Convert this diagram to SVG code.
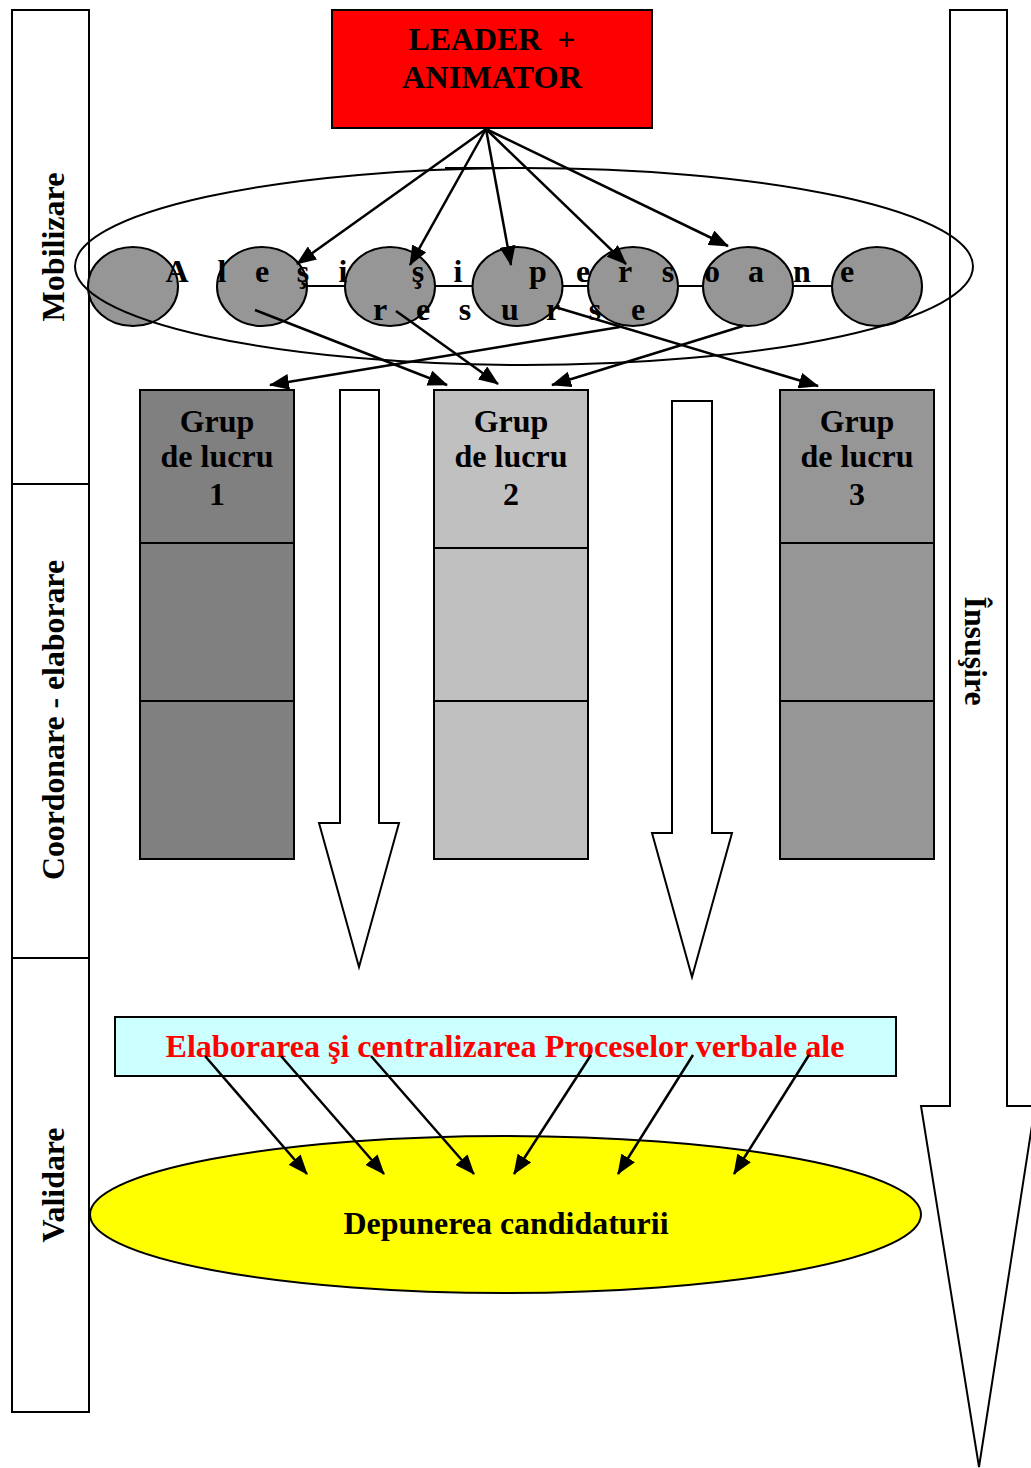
<svg xmlns="http://www.w3.org/2000/svg" width="1031" height="1468" viewBox="0 0 1031 1468">
<defs>
<marker id="ah" markerUnits="userSpaceOnUse" markerWidth="20" markerHeight="16" refX="19" refY="8" orient="auto"><path d="M0,0 L20,8 L0,16 z" fill="#000"/></marker>
</defs>
<style>
.t{font-family:"Liberation Serif","Times New Roman",serif;font-weight:bold;fill:#000;font-size:32px}
.s{stroke:#000;stroke-width:2}
.c{stroke:#000;stroke-width:2;fill:none}
.ar{stroke:#000;stroke-width:2.5;fill:none;marker-end:url(#ah)}
.circ{fill:#969696;stroke:#000;stroke-width:2}
</style>
<rect width="1031" height="1468" fill="#fff"/>

<g id="lanes">
<rect x="12" y="10" width="77" height="1402" fill="#fff" class="s"/>
<line x1="12" y1="484" x2="89" y2="484" class="s"/>
<line x1="12" y1="958" x2="89" y2="958" class="s"/>
<text class="t" transform="translate(64,247) rotate(-90)" text-anchor="middle" textLength="149" lengthAdjust="spacingAndGlyphs">Mobilizare</text>
<text class="t" transform="translate(64,720) rotate(-90)" text-anchor="middle" textLength="320" lengthAdjust="spacingAndGlyphs">Coordonare - elaborare</text>
<text class="t" transform="translate(64,1185) rotate(-90)" text-anchor="middle" textLength="115" lengthAdjust="spacingAndGlyphs">Validare</text>
</g>

<g id="insusire">
<polygon points="950,10 1007,10 1007,1106 1035,1106 979,1467 921,1106 950,1106" fill="#fff" class="s"/>
<text class="t" transform="translate(965,651) rotate(90)" text-anchor="middle" textLength="109" lengthAdjust="spacingAndGlyphs">Însuşire</text>
</g>

<g id="leader">
<rect x="332" y="10" width="320" height="118" fill="#ff0000" class="s"/>
<text class="t" x="492" y="50" text-anchor="middle" textLength="167" lengthAdjust="spacingAndGlyphs" xml:space="preserve">LEADER  +</text>
<text class="t" x="492" y="88" text-anchor="middle" textLength="180" lengthAdjust="spacingAndGlyphs">ANIMATOR</text>
</g>

<g id="resurse">
<line x1="307" y1="286" x2="345" y2="286" class="s"/>
<line x1="435" y1="286" x2="472" y2="286" class="s"/>
<line x1="563" y1="286" x2="588" y2="286" class="s"/>
<line x1="678" y1="286" x2="717" y2="286" class="s"/>
<line x1="793" y1="286" x2="832" y2="286" class="s"/>
<ellipse class="circ" cx="133" cy="286.5" rx="45" ry="39.5"/>
<ellipse class="circ" cx="262" cy="286.5" rx="45" ry="39.5"/>
<ellipse class="circ" cx="390" cy="286.5" rx="45" ry="39.5"/>
<ellipse class="circ" cx="517.5" cy="286.5" rx="45" ry="39.5"/>
<ellipse class="circ" cx="633" cy="286.5" rx="45" ry="39.5"/>
<ellipse class="circ" cx="748" cy="286.5" rx="45" ry="39.5"/>
<ellipse class="circ" cx="877" cy="286.5" rx="45" ry="39.5"/>
<ellipse class="c" cx="524" cy="266.5" rx="449" ry="98.5"/>
<line x1="445" y1="168" x2="512" y2="168" class="s"/>
<text class="t" y="282" text-anchor="middle" x="177 222 262 303 343 418 458 538 583 625 668 712 756 802 847">Aleşişipersoane</text>
<text class="t" y="320" text-anchor="middle" x="380 423 465 510 553 595 638">resurse</text>
</g>

<g id="grup1">
<rect x="140" y="390" width="154" height="469" fill="#808080" class="s"/>
<line x1="140" y1="543" x2="294" y2="543" class="s"/>
<line x1="140" y1="701" x2="294" y2="701" class="s"/>
<text class="t" x="217" y="432" text-anchor="middle">Grup</text>
<text class="t" x="217" y="467" text-anchor="middle">de lucru</text>
<text class="t" x="217" y="505" text-anchor="middle">1</text>
</g>
<g id="grup2">
<rect x="434" y="390" width="154" height="469" fill="#c0c0c0" class="s"/>
<line x1="434" y1="548" x2="588" y2="548" class="s"/>
<line x1="434" y1="701" x2="588" y2="701" class="s"/>
<text class="t" x="511" y="432" text-anchor="middle">Grup</text>
<text class="t" x="511" y="467" text-anchor="middle">de lucru</text>
<text class="t" x="511" y="505" text-anchor="middle">2</text>
</g>
<g id="grup3">
<rect x="780" y="390" width="154" height="469" fill="#969696" class="s"/>
<line x1="780" y1="543" x2="934" y2="543" class="s"/>
<line x1="780" y1="701" x2="934" y2="701" class="s"/>
<text class="t" x="857" y="432" text-anchor="middle">Grup</text>
<text class="t" x="857" y="467" text-anchor="middle">de lucru</text>
<text class="t" x="857" y="505" text-anchor="middle">3</text>
</g>

<g id="flow1">
<polygon points="340,390 379,390 379,823 399,823 359,967 319,823 340,823" fill="#fff" class="s"/>
</g>
<g id="flow2">
<polygon points="672,401 712,401 712,833 732,833 692,977 652,833 672,833" fill="#fff" class="s"/>
</g>

<g id="elaborare">
<rect x="115" y="1017" width="781" height="59" fill="#ccffff" class="s"/>
<text class="t" x="505" y="1057" text-anchor="middle" style="fill:#ff0000" textLength="679" lengthAdjust="spacingAndGlyphs">Elaborarea şi centralizarea Proceselor verbale ale</text>
</g>

<g id="depunere">
<ellipse cx="505.5" cy="1214.5" rx="415.5" ry="78.5" fill="#ffff00" class="s"/>
<text class="t" x="506" y="1234" text-anchor="middle" textLength="325" lengthAdjust="spacingAndGlyphs">Depunerea candidaturii</text>
</g>

<g id="connectors">
<line class="ar" x1="486" y1="129" x2="297" y2="264"/>
<line class="ar" x1="486" y1="129" x2="410" y2="265"/>
<line class="ar" x1="486" y1="129" x2="511" y2="265"/>
<line class="ar" x1="486" y1="129" x2="626" y2="264"/>
<line class="ar" x1="486" y1="129" x2="728" y2="246"/>
<line class="ar" x1="255" y1="310" x2="447" y2="385"/>
<line class="ar" x1="396" y1="311" x2="498" y2="384"/>
<line class="ar" x1="620" y1="327" x2="270" y2="385"/>
<line class="ar" x1="743" y1="326" x2="552" y2="385"/>
<line class="ar" x1="555" y1="307" x2="818" y2="386"/>
<line class="ar" x1="205" y1="1056" x2="307" y2="1174"/>
<line class="ar" x1="281" y1="1056" x2="384" y2="1174"/>
<line class="ar" x1="371" y1="1056" x2="474" y2="1174"/>
<line class="ar" x1="591" y1="1055" x2="514" y2="1174"/>
<line class="ar" x1="693" y1="1055" x2="618" y2="1174"/>
<line class="ar" x1="809" y1="1055" x2="734" y2="1174"/>
</g>
</svg>
